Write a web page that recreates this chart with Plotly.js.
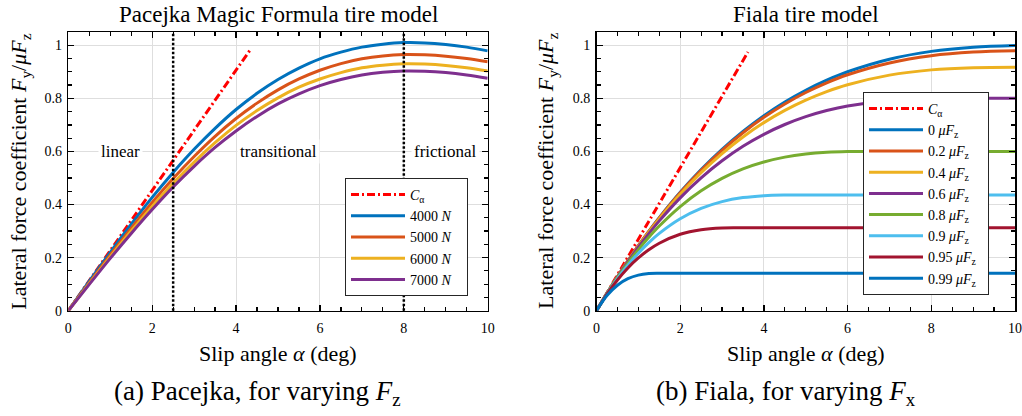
<!DOCTYPE html>
<html>
<head>
<meta charset="utf-8">
<script src="https://cdn.plot.ly/plotly-3.0.1.min.js"></script>
<style>html,body{margin:0;padding:0;background:#fff;}#chart{width:1022px;height:416px;}</style>
</head>
<body>
<div id="chart"></div>
<script>
// ---------- data ----------
// (a) Pacejka Magic Formula, varying Fz
const slipAnglePacejka = [0,0.5,1,1.5,2,2.5,3,3.5,4,4.5,5,5.5,6,6.5,7,7.5,8,8.5,9,9.5,10];
const pacejkaLabels = ['4000 <i>N</i>','5000 <i>N</i>','6000 <i>N</i>','7000 <i>N</i>'];
const pacejka4000 = [0,0.111,0.220,0.326,0.427,0.521,0.608,0.687,0.758,0.819,0.871,0.914,0.949,0.974,0.993,1.004,1.010,1.009,1.003,0.993,0.979];
const pacejka5000 = [0,0.106,0.210,0.311,0.408,0.498,0.581,0.657,0.724,0.782,0.832,0.873,0.906,0.931,0.949,0.960,0.965,0.964,0.959,0.950,0.938];
const pacejka6000 = [0,0.102,0.203,0.300,0.393,0.480,0.560,0.633,0.698,0.754,0.802,0.842,0.873,0.897,0.915,0.925,0.930,0.929,0.924,0.915,0.903];
const pacejka7000 = [0,0.099,0.197,0.291,0.381,0.466,0.544,0.615,0.677,0.732,0.779,0.817,0.848,0.871,0.888,0.898,0.903,0.902,0.897,0.888,0.876];
const corneringPacejkaX = [0,4.33];
const corneringPacejkaY = [0,0.981];
const regionBounds = [2.5, 8];
const regionLabels = ['linear','transitional','frictional'];
const regionLabelX = [1.25, 5.0, 9.0];
const regionLabelY = 0.6;

// (b) Fiala, varying Fx
const slipAngleFiala = [0,0.25,0.5,0.75,1,1.25,1.5,2,2.5,3,3.5,4,4.5,5,5.5,6,7,8,9,10];
const fialaLabels = ['0 <i>μF</i><sub>z</sub>','0.2 <i>μF</i><sub>z</sub>','0.4 <i>μF</i><sub>z</sub>','0.6 <i>μF</i><sub>z</sub>','0.8 <i>μF</i><sub>z</sub>','0.9 <i>μF</i><sub>z</sub>','0.95 <i>μF</i><sub>z</sub>','0.99 <i>μF</i><sub>z</sub>'];
const fiala000 = [0,0.0655,0.1281,0.1878,0.2448,0.2990,0.3505,0.4459,0.5315,0.6078,0.6753,0.7346,0.7862,0.8306,0.8684,0.9002,0.9475,0.9770,0.9927,0.9991];
const fiala020 = [0,0.0655,0.1280,0.1876,0.2443,0.2983,0.3495,0.4442,0.5289,0.6042,0.6706,0.7286,0.7789,0.8220,0.8585,0.8889,0.9335,0.9606,0.9743,0.9793];
const fiala040 = [0,0.0654,0.1276,0.1867,0.2427,0.2959,0.3461,0.4384,0.5201,0.5919,0.6545,0.7085,0.7546,0.7933,0.8253,0.8513,0.8876,0.9073,0.9155,0.9173];
const fiala060 = [0,0.0651,0.1267,0.1846,0.2392,0.2904,0.3384,0.4252,0.5004,0.5647,0.6192,0.6645,0.7015,0.7311,0.7541,0.7713,0.7918,0.7992,0.8000,0.8000];
const fiala080 = [0,0.0645,0.1243,0.1794,0.2301,0.2765,0.3189,0.3922,0.4516,0.4984,0.5341,0.5603,0.5785,0.5900,0.5965,0.5994,0.6000,0.6000,0.6000,0.6000];
const fiala090 = [0,0.0636,0.1207,0.1717,0.2168,0.2565,0.2911,0.3463,0.3854,0.4110,0.4261,0.4334,0.4358,0.4359,0.4359,0.4359,0.4359,0.4359,0.4359,0.4359];
const fiala095 = [0,0.0623,0.1158,0.1610,0.1987,0.2295,0.2542,0.2879,0.3052,0.3116,0.3122,0.3122,0.3122,0.3122,0.3122,0.3122,0.3122,0.3122,0.3122,0.3122];
const fiala099 = [0,0.0570,0.0960,0.1206,0.1341,0.1398,0.1410,0.1411,0.1411,0.1411,0.1411,0.1411,0.1411,0.1411,0.1411,0.1411,0.1411,0.1411,0.1411,0.1411];
const corneringFialaX = [0,3.62];
const corneringFialaY = [0,0.975];

const xTickVals = [0,2,4,6,8,10];
const yTickVals = [0,0.2,0.4,0.6,0.8,1];
const yTickText = ['0','0.2','0.4','0.6','0.8','1'];

// ---------- style ----------
const SERIF = '"Liberation Serif", "DejaVu Serif", serif';
const C = {blue:'#0072BD', orange:'#D95319', yellow:'#EDB120', purple:'#7E2F8E', green:'#77AC30', cyan:'#4DBEEE', dred:'#A2142F', red:'#FF0000'};
const LW = 3;
const caLabel = '<i>C</i><sub>α</sub>';
const PAD_L = '&nbsp;&nbsp;&nbsp;';
const PAD_R = '&nbsp;&nbsp;';

function line(x, y, name, color, opts) {
  return Object.assign({
    type:'scatter', mode:'lines', x:x, y:y, name:name,
    line:{color:color, width:LW, shape:'spline', smoothing:1},
    hoverinfo:'skip'
  }, opts || {});
}
const dashCa = {color:C.red, width:LW, dash:'8px,3px,2px,3px'};
const L = {xaxis:'x', yaxis:'y', legend:'legend'};
const R = {xaxis:'x2', yaxis:'y2', legend:'legend2'};

const traces = [
  line(corneringPacejkaX, corneringPacejkaY, caLabel + PAD_L, C.red, Object.assign({line:dashCa}, L)),
  line(slipAnglePacejka, pacejka4000, pacejkaLabels[0] + PAD_L, C.blue, L),
  line(slipAnglePacejka, pacejka5000, pacejkaLabels[1] + PAD_L, C.orange, L),
  line(slipAnglePacejka, pacejka6000, pacejkaLabels[2] + PAD_L, C.yellow, L),
  line(slipAnglePacejka, pacejka7000, pacejkaLabels[3] + PAD_L, C.purple, L),

  line(corneringFialaX, corneringFialaY, caLabel + PAD_R, C.red, Object.assign({line:dashCa}, R)),
  line(slipAngleFiala, fiala000, fialaLabels[0] + PAD_R, C.blue, R),
  line(slipAngleFiala, fiala020, fialaLabels[1] + PAD_R, C.orange, R),
  line(slipAngleFiala, fiala040, fialaLabels[2] + PAD_R, C.yellow, R),
  line(slipAngleFiala, fiala060, fialaLabels[3] + PAD_R, C.purple, R),
  line(slipAngleFiala, fiala080, fialaLabels[4] + PAD_R, C.green, R),
  line(slipAngleFiala, fiala090, fialaLabels[5] + PAD_R, C.cyan, R),
  line(slipAngleFiala, fiala095, fialaLabels[6] + PAD_R, C.dred, R),
  line(slipAngleFiala, fiala099, fialaLabels[7] + PAD_R, C.blue, R)
];

const W = 1022, H = 416;
const px = v => v / W;
const py = v => 1 - v / H;

function baseAxis() {
  return {
    ticks:'inside', ticklen:6, tickwidth:1.2, tickcolor:'#000',
    showline:true, linecolor:'#000', linewidth:1.5, mirror:'ticks',
    showgrid:true, gridcolor:'#dedede', gridwidth:1, zeroline:false,
    tickfont:{family:SERIF, size:14, color:'#000'}, automargin:false, fixedrange:true
  };
}
function xAxis(domain, anchor) {
  return Object.assign(baseAxis(), {
    domain: domain, anchor: anchor, range:[0,10], autorange:false, tickvals: xTickVals, ticklabelstandoff:4,
    minor:{dtick:0.5, tick0:0, ticks:'inside', ticklen:4, tickwidth:1.2, tickcolor:'#000', showgrid:false}
  });
}
function yAxis(domain, anchor) {
  return Object.assign(baseAxis(), {
    domain: domain, anchor: anchor, range:[0,1.05], autorange:false, tickvals: yTickVals, ticktext: yTickText, ticklabelstandoff:2,
    minor:{dtick:0.05, tick0:0, ticks:'inside', ticklen:4, tickwidth:1.2, tickcolor:'#000', showgrid:false}
  });
}

const yDom = [py(310.7), py(32)];
const annotations = [];
// subplot titles
annotations.push({xref:'paper', yref:'paper', x:px(278), y:py(14.5), xanchor:'center', yanchor:'middle', showarrow:false,
  text:'Pacejka Magic Formula tire model', font:{family:SERIF, size:23, color:'#000'}});
annotations.push({xref:'paper', yref:'paper', x:px(805.75), y:py(14.5), xanchor:'center', yanchor:'middle', showarrow:false,
  text:'Fiala tire model', font:{family:SERIF, size:23, color:'#000'}});
// axis titles
[[278, 20.3], [805.75, 547.5]].forEach(function (p) {
  annotations.push({xref:'paper', yref:'paper', x:px(p[0]), y:py(353), xanchor:'center', yanchor:'middle', showarrow:false,
    text:'Slip angle <i>α</i> (deg)', font:{family:SERIF, size:22, color:'#000'}});
  annotations.push({xref:'paper', yref:'paper', x:px(p[1]), y:py(171.4), xanchor:'center', yanchor:'middle', showarrow:false, textangle:-90,
    text:'Lateral force coefficient <i>F</i><sub>y</sub>/<i>μF</i><sub>z</sub>', font:{family:SERIF, size:22, color:'#000'}});
});
// captions
annotations.push({xref:'paper', yref:'paper', x:px(257.5), y:py(393), xanchor:'center', yanchor:'middle', showarrow:false,
  text:'(a) Pacejka, for varying <i>F</i><sub>z</sub>', font:{family:SERIF, size:27, color:'#000'}});
annotations.push({xref:'paper', yref:'paper', x:px(786), y:py(393), xanchor:'center', yanchor:'middle', showarrow:false,
  text:'(b) Fiala, for varying <i>F</i><sub>x</sub>', font:{family:SERIF, size:27, color:'#000'}});
// region labels
regionLabels.forEach(function (t, i) {
  annotations.push({xref:'x', yref:'y', x:regionLabelX[i], y:regionLabelY, xanchor:'center', yanchor:'middle', showarrow:false,
    text:t, bgcolor:'#fff', borderpad:2, font:{family:SERIF, size:17, color:'#000'}});
});

const shapes = regionBounds.map(function (b) {
  return {type:'line', xref:'x', yref:'y domain', x0:b, x1:b, y0:0, y1:1, layer:'above',
    line:{color:'#000', width:2.5, dash:'2.5px,2px'}};
});

const legendBase = {
  xanchor:'left', yanchor:'top', bgcolor:'#fff', bordercolor:'#262626', borderwidth:1,
  font:{family:SERIF, size:14, color:'#000'}, itemwidth:54, tracegroupgap:0, traceorder:'normal'
};

const layout = {
  width:W, height:H, margin:{l:0, r:0, t:0, b:0}, paper_bgcolor:'#fff', plot_bgcolor:'#fff',
  font:{family:SERIF},
  showlegend:true,
  xaxis: xAxis([px(68.3), px(487.7)], 'y'),
  yaxis: yAxis(yDom, 'x'),
  xaxis2: xAxis([px(596.5), px(1015)], 'y2'),
  yaxis2: yAxis(yDom, 'x2'),
  legend: Object.assign({x:px(345), y:py(178)}, legendBase),
  legend2: Object.assign({x:px(863), y:py(92)}, legendBase),
  annotations: annotations,
  shapes: shapes
};

Plotly.newPlot('chart', traces, layout, {displayModeBar:false, staticPlot:true});
</script>
</body>
</html>
